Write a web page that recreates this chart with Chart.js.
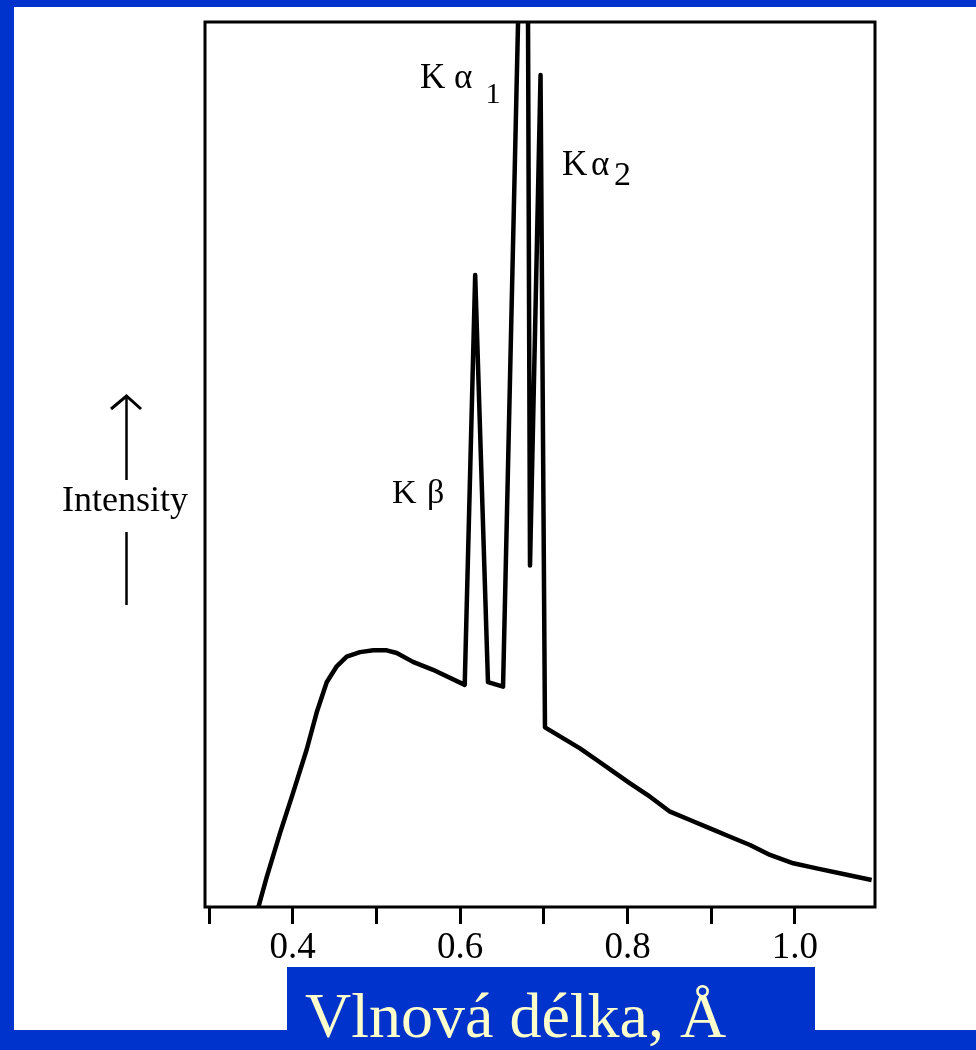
<!DOCTYPE html>
<html>
<head>
<meta charset="utf-8">
<script src="https://cdn.jsdelivr.net/npm/chart.js@4/dist/chart.umd.min.js"></script>
<style>
  html, body { margin:0; padding:0; }
  body { width:976px; height:1050px; overflow:hidden; position:relative; background:#0033cc; }
  #white { position:absolute; left:14px; top:7px; width:962px; height:1023px; background:#ffffff; }
  #xbox { position:absolute; left:287px; top:967px; width:528px; height:83px; background:#0033cc; }
  #c { position:absolute; left:0; top:0; }
  .t { position:absolute; font-family:"Liberation Serif","DejaVu Serif",serif; line-height:1; color:#000; white-space:nowrap; }
  #arrow { position:absolute; left:0; top:0; pointer-events:none; }
</style>
</head>
<body>
<div id="white"></div>
<div id="xbox"></div>
<canvas id="c" width="976" height="1050" style="width:976px;height:1050px"></canvas>
<svg id="arrow" width="976" height="1050">
  <line x1="126.5" y1="397" x2="126.5" y2="480" stroke="#000" stroke-width="2.5"/>
  <polyline points="111,409 126.5,396 141,409" fill="none" stroke="#000" stroke-width="3"/>
  <line x1="126.5" y1="532" x2="126.5" y2="605" stroke="#000" stroke-width="2.5"/>
</svg>
<div class="t" style="left:62px;top:481px;font-size:36px;">Intensity</div>
<div class="t" style="left:420px;top:58.7px;font-size:35px;">K</div>
<div class="t" style="left:454px;top:58.7px;font-size:35px;">α</div>
<div class="t" style="left:485.5px;top:78px;font-size:30px;">1</div>
<div class="t" style="left:562px;top:145.7px;font-size:35px;">K</div>
<div class="t" style="left:591px;top:145.7px;font-size:35px;">α</div>
<div class="t" style="left:614px;top:156.6px;font-size:34px;">2</div>
<div class="t" style="left:392px;top:474.6px;font-size:34px;">K</div>
<div class="t" style="left:427px;top:474.6px;font-size:34px;">β</div>
<div class="t" style="left:305px;top:984.4px;font-size:64px;color:#ffffcc;">Vlnová délka, Å</div>
<script>
// Wavelength (Å) and relative intensity
const wavelength = [0.359, 0.369, 0.385, 0.4004, 0.4167, 0.4287, 0.4406, 0.4526, 0.4645, 0.4804, 0.4963,
                    0.5123, 0.5243, 0.5437, 0.5676, 0.6055,
                    0.618, 0.6333, 0.6513, 0.6795, 0.6835, 0.6961, 0.7014,
                    0.7233, 0.7432, 0.7632, 0.783, 0.803, 0.8269, 0.8508, 0.8747, 0.8986, 0.9225,
                    0.9464, 0.9703, 0.9981, 1.026, 1.0578, 1.0917];
const intensity  = [0, 3.4, 8.4, 12.9, 17.8, 22.0, 25.4, 27.2, 28.3, 28.8, 29.0,
                    29.0, 28.7, 27.7, 26.8, 25.1,
                    71.4, 25.4, 24.9, 143, 38.6, 94.0, 20.3,
                    19.06, 17.93, 16.61, 15.29, 13.97, 12.46, 10.77, 9.83, 8.89, 7.94,
                    7.01, 5.88, 4.94, 4.37, 3.73, 3.05];
const tickValues = [0.3, 0.4, 0.5, 0.6, 0.7, 0.8, 0.9, 1.0];
const tickLabels = ['0.4', '0.6', '0.8', '1.0'];

const points = wavelength.map((x, i) => ({ x: x, y: intensity[i] }));

const frame = {
  id: 'frame',
  afterDraw(chart) {
    const a = chart.chartArea, ctx = chart.ctx;
    ctx.save();
    ctx.strokeStyle = '#000';
    ctx.lineWidth = 3;
    ctx.strokeRect(a.left, a.top, a.right - a.left, a.bottom - a.top);
    ctx.restore();
  }
};

new Chart(document.getElementById('c'), {
  type: 'scatter',
  data: {
    datasets: [{
      data: points,
      showLine: true,
      borderColor: '#000',
      borderWidth: 4.5,
      borderJoinStyle: 'round',
      pointRadius: 0,
      tension: 0,
      fill: false
    }]
  },
  options: {
    responsive: false,
    animation: false,
    devicePixelRatio: 1,
    layout: { padding: { left: 205, right: 101, top: 22, bottom: 0 } },
    plugins: { legend: { display: false }, tooltip: { enabled: false } },
    scales: {
      x: {
        type: 'linear',
        position: 'bottom',
        min: 0.2952,
        max: 1.0957,
        afterBuildTicks: (s) => { s.ticks = tickValues.map(v => ({ value: v })); },
        afterFit: (s) => { s.height = 143; },
        border: { display: false },
        grid: { drawOnChartArea: false, drawTicks: true, tickLength: 17, lineWidth: 3, color: '#000' },
        ticks: {
          autoSkip: false, maxRotation: 0, padding: 2, color: '#000',
          font: { family: 'Liberation Serif', size: 37 },
          callback: (v) => { const s = Number(v).toFixed(1); return tickLabels.includes(s) ? s : ''; }
        }
      },
      y: { display: false, min: 0, max: 100 }
    }
  },
  plugins: [frame]
});
</script>
</body>
</html>
